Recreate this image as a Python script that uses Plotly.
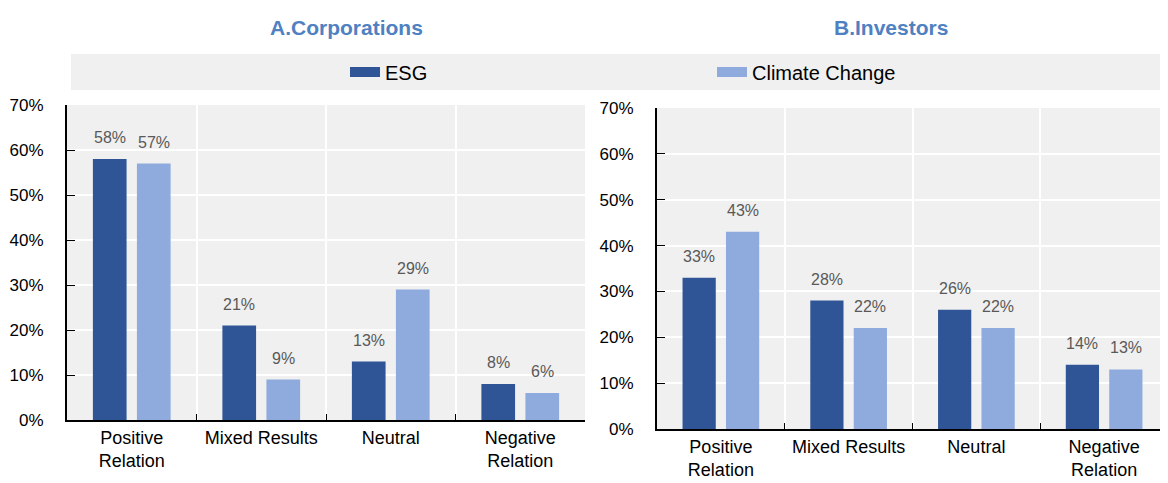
import plotly.graph_objects as go

# data (percent)
categories = ["Positive<br>Relation", "Mixed Results", "Neutral", "Negative<br>Relation"]
corp_esg = [58, 21, 13, 8]
corp_climate = [57, 9, 29, 6]
inv_esg = [33, 28, 26, 14]
inv_climate = [43, 22, 22, 13]

ESG_COLOR = "#2F5597"
CLIMATE_COLOR = "#8FAADC"
PLOT_BG = "#F0F0F0"
FONT = "Liberation Sans, Arial"

# the page body has an 8px margin, so the figure is drawn 8px in from the window corner
PAGE_PAD = 8
W, H = 1168 - PAGE_PAD, 483 - PAGE_PAD
BAR_OFFSET = 0.17  # half distance between the two bars of a group, in category units


def px_x(sx):
    return (sx - PAGE_PAD) / W


def px_y(sy):
    return 1 - (sy - PAGE_PAD) / H


fig = go.Figure()
labels = []


def add_bars(esg, climate, xa, ya):
    for name, vals, color, side in [("ESG", esg, ESG_COLOR, -1), ("Climate Change", climate, CLIMATE_COLOR, 1)]:
        fig.add_trace(go.Bar(
            x=categories, y=vals, name=name, marker_color=color, marker_line_width=0,
            xaxis=xa, yaxis=ya, showlegend=False, hoverinfo="x+y",
        ))
        # value labels sit a little higher above the bars than plotly's own outside text
        for i, v in enumerate(vals):
            labels.append(dict(
                x=i + side * BAR_OFFSET, y=v, xref=xa, yref=ya, text=f"{v}%",
                showarrow=False, yanchor="bottom", yshift=11,
                font=dict(size=16, color="#595959", family=FONT),
            ))


add_bars(corp_esg, corp_climate, "x", "y")
add_bars(inv_esg, inv_climate, "x2", "y2")

# legend-only entries, drawn as thick line segments to get wide swatches
for name, color in [("ESG", ESG_COLOR), ("Climate Change", CLIMATE_COLOR)]:
    fig.add_trace(go.Scatter(x=[None], y=[None], mode="lines", name=name,
                             line=dict(color=color, width=15), showlegend=True))

xaxis_style = dict(
    type="category", tickson="boundaries", ticks="inside", ticklen=6, tickcolor="black",
    showline=True, linecolor="black", linewidth=2, showgrid=True, gridcolor="white", gridwidth=2,
    tickangle=0, automargin=False,
    tickfont=dict(size=18, color="black", family=FONT), fixedrange=True,
)
yaxis_style = dict(
    range=[0, 70], dtick=10, ticksuffix="%", ticks="inside", ticklen=8, tickcolor="black",
    showline=True, linecolor="black", linewidth=2, showgrid=True, gridcolor="white", gridwidth=2,
    zeroline=False, automargin=False,
    tickfont=dict(size=17, color="black", family=FONT), ticklabelstandoff=18,
)

fig.update_layout(
    width=W, height=H,
    margin=dict(l=0, r=0, t=0, b=0),
    paper_bgcolor="white", plot_bgcolor=PLOT_BG,
    barmode="group", bargap=0.32, bargroupgap=0.235,
    font=dict(family=FONT, color="black"),
    xaxis=dict(domain=[px_x(67), px_x(585)], anchor="y", **xaxis_style),
    yaxis=dict(domain=[px_y(420), px_y(105)], anchor="x", **yaxis_style),
    xaxis2=dict(domain=[px_x(657), 1], anchor="y2", **xaxis_style),
    yaxis2=dict(domain=[px_y(429), px_y(108)], anchor="x2", **yaxis_style),
    legend=dict(orientation="h", x=px_x(345), xanchor="left", y=px_y(72), yanchor="middle",
                bgcolor="rgba(0,0,0,0)", font=dict(size=20, family=FONT),
                entrywidth=322, entrywidthmode="pixels", itemclick=False),
    shapes=[dict(type="rect", xref="paper", yref="paper", x0=px_x(71), x1=1,
                 y0=px_y(90), y1=px_y(54), fillcolor=PLOT_BG, line_width=0, layer="below")],
    annotations=labels + [
        dict(text="<b>A.Corporations</b>", x=px_x(346), y=px_y(27), xref="paper", yref="paper",
             xanchor="center", yanchor="middle", showarrow=False,
             font=dict(size=21, color="#4F81C2", family=FONT)),
        dict(text="<b>B.Investors</b>", x=px_x(891), y=px_y(27), xref="paper", yref="paper",
             xanchor="center", yanchor="middle", showarrow=False,
             font=dict(size=21, color="#4F81C2", family=FONT)),
    ],
)

fig.write_html("out.html")
